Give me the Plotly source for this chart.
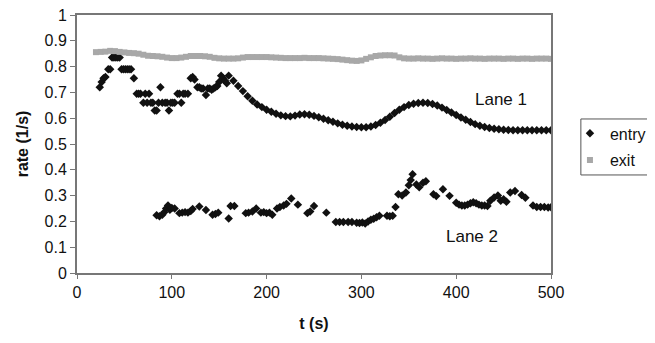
import plotly.graph_objects as go

# ---- data ----
lane1_t = [24, 26, 28, 30, 33, 35, 37, 39, 41, 43, 45, 47, 49, 51, 53, 55, 57, 60,
           63, 65, 67, 70, 72, 74, 76, 78, 80, 82, 84, 86, 88, 90, 93, 95, 97, 99,
           101, 103, 106, 108, 110, 112, 114, 117, 120, 122, 124, 127, 129, 131,
           133, 136, 138, 140, 142, 144, 146, 148, 150, 152, 154, 156, 158,
           160, 165, 170, 175, 180, 185, 190, 195, 200, 205, 210, 215, 220, 225,
           230, 235, 240, 245, 250, 255, 260, 265, 270, 275, 280, 285, 290, 295,
           300, 305, 310, 315, 320, 325, 330, 335, 340, 345, 350, 355, 360, 365,
           370, 375, 380, 385, 390, 395, 400, 405, 410, 415, 420, 425, 430, 435,
           440, 445, 450, 455, 460, 465, 470, 475, 480, 485, 490, 495, 500]
lane1_v = [0.72, 0.74, 0.755, 0.76, 0.79, 0.79, 0.835, 0.835, 0.835, 0.835, 0.835,
           0.79, 0.79, 0.79, 0.79, 0.79, 0.79, 0.755,
           0.695, 0.695, 0.695, 0.66, 0.695, 0.66, 0.695, 0.66, 0.66, 0.63, 0.63,
           0.66, 0.72, 0.66, 0.66, 0.66, 0.63, 0.66,
           0.66, 0.66, 0.695, 0.695, 0.66, 0.695, 0.695, 0.695, 0.755, 0.76, 0.75,
           0.72, 0.72, 0.715, 0.715, 0.69, 0.715, 0.715, 0.71, 0.715, 0.72, 0.725,
           0.74, 0.765, 0.755, 0.745, 0.735,
           0.765, 0.745, 0.725, 0.705, 0.685, 0.668, 0.653, 0.643, 0.633, 0.625,
           0.617, 0.611, 0.608, 0.607, 0.61, 0.614, 0.615, 0.613, 0.609, 0.604,
           0.598, 0.592, 0.586, 0.58, 0.575, 0.571, 0.568, 0.566, 0.565, 0.565,
           0.568, 0.574, 0.582, 0.593, 0.606, 0.62, 0.633, 0.643, 0.651, 0.656,
           0.659, 0.66, 0.659, 0.655, 0.649, 0.641, 0.632, 0.622, 0.612, 0.603,
           0.594, 0.585, 0.577, 0.571, 0.566, 0.562, 0.559, 0.557, 0.555, 0.554,
           0.553, 0.553, 0.553, 0.553, 0.553, 0.553, 0.553, 0.553, 0.553]

lane2_t = [84, 87, 90, 92, 94, 96, 98, 100, 103, 108, 111, 114, 117, 120, 122, 129,
           136, 143, 146, 149, 160, 162, 166, 178, 181, 185, 189, 194, 197, 200,
           203, 206, 211, 214, 218, 221, 226, 233, 243, 246, 250, 263, 273, 277,
           281, 286, 290, 295, 298, 301, 304, 307, 310, 313, 316, 319, 327, 330,
           333, 336, 339, 343, 347, 350, 352, 354, 358, 361, 365, 368, 376, 379,
           386, 393, 400, 403, 406, 409, 412, 415, 418, 421, 424, 427, 430, 433,
           436, 440, 444, 447, 450, 453, 457, 462, 469, 473, 481, 485, 489, 493,
           497, 500]
lane2_v = [0.224, 0.22, 0.226, 0.235, 0.25, 0.262, 0.245, 0.252, 0.25, 0.232,
           0.234, 0.236, 0.234, 0.24, 0.248, 0.258, 0.244, 0.226, 0.229, 0.234,
           0.211, 0.26, 0.26, 0.232, 0.234, 0.238, 0.25, 0.234, 0.236, 0.232,
           0.234, 0.226, 0.25, 0.256, 0.262, 0.268, 0.289, 0.265, 0.232, 0.238,
           0.26, 0.234, 0.198, 0.198, 0.198, 0.198, 0.198, 0.195, 0.194, 0.196,
           0.192, 0.2, 0.206, 0.21, 0.216, 0.222, 0.222, 0.22, 0.222, 0.256,
           0.305, 0.3, 0.312, 0.34, 0.36, 0.383, 0.343, 0.332, 0.35, 0.356,
           0.305, 0.298, 0.325, 0.299, 0.272, 0.265, 0.262, 0.262, 0.265, 0.27,
           0.274, 0.27, 0.265, 0.262, 0.262, 0.26, 0.28, 0.293, 0.3, 0.28, 0.286,
           0.276, 0.312, 0.318, 0.302, 0.292, 0.262, 0.256, 0.256, 0.256, 0.254,
           0.255]

exit_t = list(range(20, 505, 5))
exit_v = [0.856, 0.857, 0.858, 0.861, 0.86, 0.857, 0.855, 0.853, 0.852, 0.85,
          0.846, 0.842, 0.841, 0.84, 0.838, 0.835, 0.833, 0.833, 0.835, 0.838,
          0.841, 0.841, 0.841, 0.84, 0.838, 0.834, 0.832, 0.831, 0.831, 0.831,
          0.832, 0.835, 0.837, 0.837, 0.837, 0.837, 0.837, 0.836, 0.835, 0.834,
          0.833, 0.833, 0.833, 0.833, 0.834, 0.833, 0.833, 0.833, 0.832, 0.831,
          0.83, 0.829, 0.827, 0.825, 0.823, 0.822, 0.824, 0.83, 0.836, 0.841,
          0.843, 0.844, 0.844, 0.843, 0.836, 0.832, 0.831, 0.831, 0.832, 0.831,
          0.831, 0.83, 0.831, 0.832, 0.831, 0.831, 0.83, 0.831, 0.831, 0.832,
          0.831, 0.831, 0.83, 0.831, 0.831, 0.831, 0.83, 0.831, 0.831, 0.83,
          0.831, 0.831, 0.83, 0.831, 0.831, 0.831, 0.83]

x_ticks = [0, 100, 200, 300, 400, 500]
y_ticks = [0, 0.1, 0.2, 0.3, 0.4, 0.5, 0.6, 0.7, 0.8, 0.9, 1]
y_labels = ["0", "0.1", "0.2", "0.3", "0.4", "0.5", "0.6", "0.7", "0.8", "0.9", "1"]

FONT = "Liberation Sans, Arial, sans-serif"
BLACK = "#111111"
GRAY = "#a8a8a8"

fig = go.Figure()
fig.add_trace(go.Scatter(x=lane1_t, y=lane1_v, mode="markers", name="entry",
                         legendgroup="entry",
                         marker=dict(symbol="diamond", size=6.5, color=BLACK)))
fig.add_trace(go.Scatter(x=lane2_t, y=lane2_v, mode="markers", name="entry",
                         legendgroup="entry", showlegend=False,
                         marker=dict(symbol="diamond", size=6.5, color=BLACK)))
fig.add_trace(go.Scatter(x=exit_t, y=exit_v, mode="markers", name="exit",
                         legendgroup="exit",
                         marker=dict(symbol="square", size=6, color=GRAY)))

fig.add_annotation(x=447, y=0.672, text="Lane 1", showarrow=False,
                   font=dict(family=FONT, size=17, color=BLACK))
fig.add_annotation(x=417, y=0.142, text="Lane 2", showarrow=False,
                   font=dict(family=FONT, size=17, color=BLACK))

# legend frame
fig.add_shape(type="rect", xref="paper", yref="paper",
              x0=1.063, x1=1.205, y0=0.38, y1=0.597,
              line=dict(color="#555555", width=1), fillcolor="rgba(0,0,0,0)")

# the page body has an 8px margin, so the figure is drawn 8px smaller
fig.update_layout(
    width=647, height=335,
    margin=dict(l=69, r=104, t=7, b=70, autoexpand=False),
    paper_bgcolor="white", plot_bgcolor="white",
    font=dict(family=FONT, size=16, color=BLACK),
    showlegend=True,
    legend=dict(x=1.04, y=0.607, xanchor="left", yanchor="top",
                borderwidth=0, bgcolor="rgba(0,0,0,0)", itemwidth=30,
                font=dict(family=FONT, size=16, color=BLACK),
                traceorder="grouped", tracegroupgap=3),
)
fig.update_xaxes(range=[0, 500], tickvals=x_ticks, ticks="outside", ticklen=4,
                 tickcolor="#777777", showgrid=False, zeroline=False,
                 showline=True, linecolor="#777777", linewidth=2, mirror=True,
                 ticklabeloverflow="allow",
                 title=dict(text="<b>t (s)</b>", standoff=18,
                            font=dict(family=FONT, size=16)))
fig.update_yaxes(range=[0, 1], tickvals=y_ticks, ticktext=y_labels,
                 ticks="outside", ticklen=5, tickcolor="#777777",
                 showgrid=False, zeroline=False,
                 showline=True, linecolor="#777777", linewidth=2, mirror=True,
                 ticklabeloverflow="allow",
                 title=dict(text="<b>rate (1/s)</b>", standoff=12,
                            font=dict(family=FONT, size=16)))

fig.write_html("out.html")
